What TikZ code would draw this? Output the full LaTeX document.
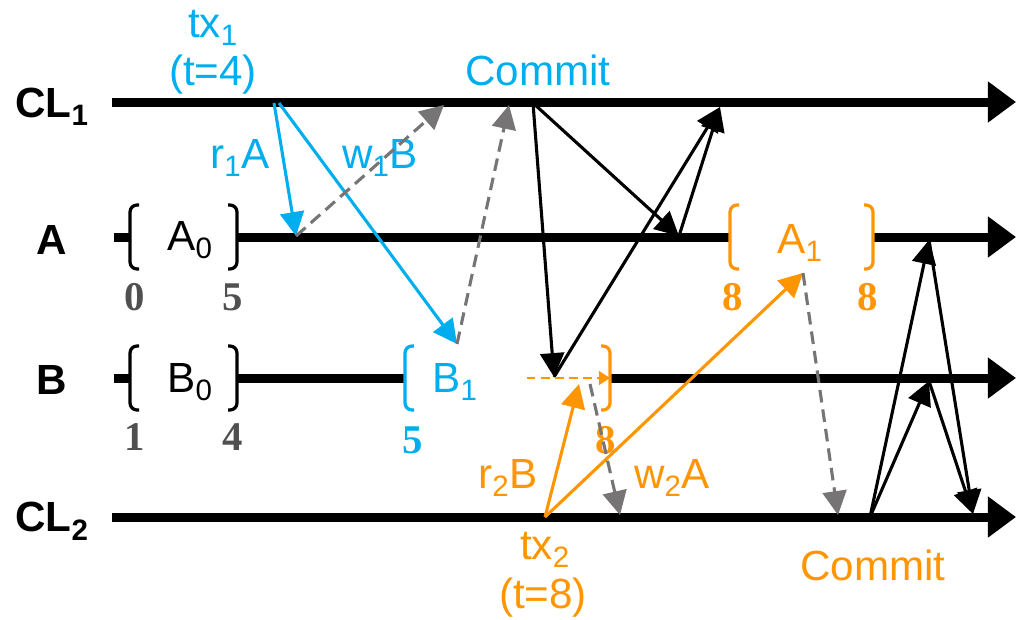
\documentclass[tikz,border=0pt]{standalone}
\usepackage{fontspec}
\setmainfont{Liberation Sans}
\newfontfamily\numfont{Liberation Serif}
\usepackage{xcolor}
\usepackage{tikz}
\usetikzlibrary{arrows.meta, positioning, calc}
\definecolor{txblue}{HTML}{00AEEF}
\definecolor{txorange}{HTML}{FF9500}
\definecolor{replygray}{HTML}{767474}
\definecolor{numgray}{HTML}{505050}

\tikzset{
  lbr/.pic={\draw[brk] (9,-32) -- (0,-32) -- (0,32) -- (9,32);},
  rbr/.pic={\draw[brk] (-9,-32) -- (0,-32) -- (0,32) -- (-9,32);}
}

\begin{document}
\begin{tikzpicture}[x=0.025cm, y=-0.025cm,
    lane/.style={line width=6.4pt, -{Triangle[length=20pt,width=28pt]}},
    stub/.style={line width=6.4pt},
    brk/.style={line width=2.3pt, rounded corners=5pt},
    msg/.style={line width=2.2pt, -{Triangle[length=17pt,width=17pt]}},
    reply/.style={msg, replygray, dash pattern=on 9pt off 5pt},
    lbl/.style={font=\fontsize{30}{32}\selectfont},
    proc/.style={font=\bfseries\fontsize{30}{32}\selectfont},
    num/.style={font=\numfont\bfseries\fontsize{29}{31}\selectfont, text=numgray}
]
\useasboundingbox (0,0) rectangle (1016,619);

% lanes
\coordinate (cl1s) at (112,102);  \coordinate (cl1e) at (1016,102);
\coordinate (as)   at (114,237);  \coordinate (ae)   at (1016,237);
\coordinate (bs)   at (114,378);  \coordinate (be)   at (1016,378);
\coordinate (cl2s) at (112,517);  \coordinate (cl2e) at (1016,517);
\coordinate (a0l) at (130,237);  \coordinate (a0r) at (237,237);
\coordinate (a1l) at (730,237);  \coordinate (a1r) at (873,237);
\coordinate (b0l) at (130,378);  \coordinate (b0r) at (237,378);
\coordinate (b1l) at (405,378);  \coordinate (b1r) at (610,378);

\node[proc] (ncl1) at (52,107) {CL\textsubscript{1}};
\node[proc] (na)   at (52,240) {A};
\node[proc] (nb)   at (52,380) {B};
\node[proc] (ncl2) at (52,521) {CL\textsubscript{2}};

\draw[lane] (cl1s) -- (cl1e);
\draw[lane] (cl2s) -- (cl2e);
\draw[stub] (as) -- (a0l);
\draw[stub] (a0r) -- (a1l);
\draw[lane] (a1r) -- (ae);
\draw[stub] (bs) -- (b0l);
\draw[stub] (b0r) -- (b1l);
\draw[lane] (b1r) -- (be);

% versions
\pic at (a0l) {lbr};  \pic at (a0r) {rbr};
\pic at (b0l) {lbr};  \pic at (b0r) {rbr};
\pic[txblue] at (b1l) {lbr};  \pic[txorange] at (b1r) {rbr};
\pic[txorange] at (a1l) {lbr};  \pic[txorange] at (a1r) {rbr};

\node[lbl] (va0) at (190,240) {A\textsubscript{0}};
\node[lbl] (vb0) at (190,382) {B\textsubscript{0}};
\node[lbl, txblue] (vb1) at (455,382) {B\textsubscript{1}};
\node[lbl, txorange] (va1) at (800,243) {A\textsubscript{1}};

\node[num] (n0) at (135,297) {0};
\node[num] (n5) at (233,297) {5};
\node[num] (n1) at (135,437) {1};
\node[num] (n4) at (233,437) {4};
\node[num, text=txblue] (nb1) at (413,440) {5};
\node[num, text=txorange] (nb1e) at (606,440) {8};
\node[num, text=txorange] (na1) at (733,297) {8};
\node[num, text=txorange] (na1e) at (868,297) {8};

% tx1
\coordinate (t1r) at (274,103);  \coordinate (t1w) at (279,103);
\coordinate (ra1) at (296,236);  \coordinate (wb1) at (457,344);
\coordinate (c1a) at (444,105);  \coordinate (c1b) at (509,105);
\coordinate (cm1) at (533,103);
\coordinate (pb1) at (554,377);  \coordinate (pa1) at (679,236);
\coordinate (ack1) at (720,107);

\node[lbl, txblue] (tx1) at (213,28) {tx\textsubscript{1}};
\node[lbl, txblue] (ts1) at (213,75) {(t=4)};
\node[lbl, txblue] (com1) at (538,70) {Commit};
\node[lbl, txblue] (lr1) at (240,158) {r\textsubscript{1}A};
\node[lbl, txblue] (lw1) at (380,158) {w\textsubscript{1}B};

\draw[msg, txblue] (t1r) -- (ra1);
\draw[msg, txblue] (t1w) -- (wb1);
\draw[reply] (ra1) -- (c1a);
\draw[reply] (wb1) -- (c1b);
\draw[msg] (cm1) -- (pb1);
\draw[msg] (cm1) -- (pa1);
\draw[msg] (pa1) -- (ack1);
\draw[msg] (pb1) -- (ack1);

% tx2
\coordinate (t2) at (545,517);
\coordinate (rb2) at (579,384);  \coordinate (rb2r) at (590,384);
\coordinate (wa2) at (803,273);
\coordinate (ds) at (527,378);   \coordinate (de) at (610,378);
\coordinate (c2b) at (620,515);  \coordinate (c2a) at (838,515);
\coordinate (cm2) at (870,517);
\coordinate (pa2) at (929,240);  \coordinate (pb2) at (929,381);
\coordinate (ack2) at (973,514);

\node[lbl, txorange] (tx2) at (545,550) {tx\textsubscript{2}};
\node[lbl, txorange] (ts2) at (543,598) {(t=8)};
\node[lbl, txorange] (com2) at (873,565) {Commit};
\node[lbl, txorange] (lr2) at (508,478) {r\textsubscript{2}B};
\node[lbl, txorange] (lw2) at (672,478) {w\textsubscript{2}A};

\draw[msg, txorange] (t2) -- (rb2);
\draw[msg, txorange] (t2) -- (wa2);
\draw[txorange, line width=1.4pt, dash pattern=on 6pt off 4pt,
  -{Triangle[length=8pt,width=10pt]}] (ds) -- (de);
\draw[reply] (rb2r) -- (c2b);
\draw[reply] (wa2) -- (c2a);
\draw[msg] (cm2) -- (pa2);
\draw[msg] (cm2) -- (pb2);
\draw[msg] (pa2) -- (ack2);
\draw[msg] (pb2) -- (ack2);
\end{tikzpicture}
\end{document}
